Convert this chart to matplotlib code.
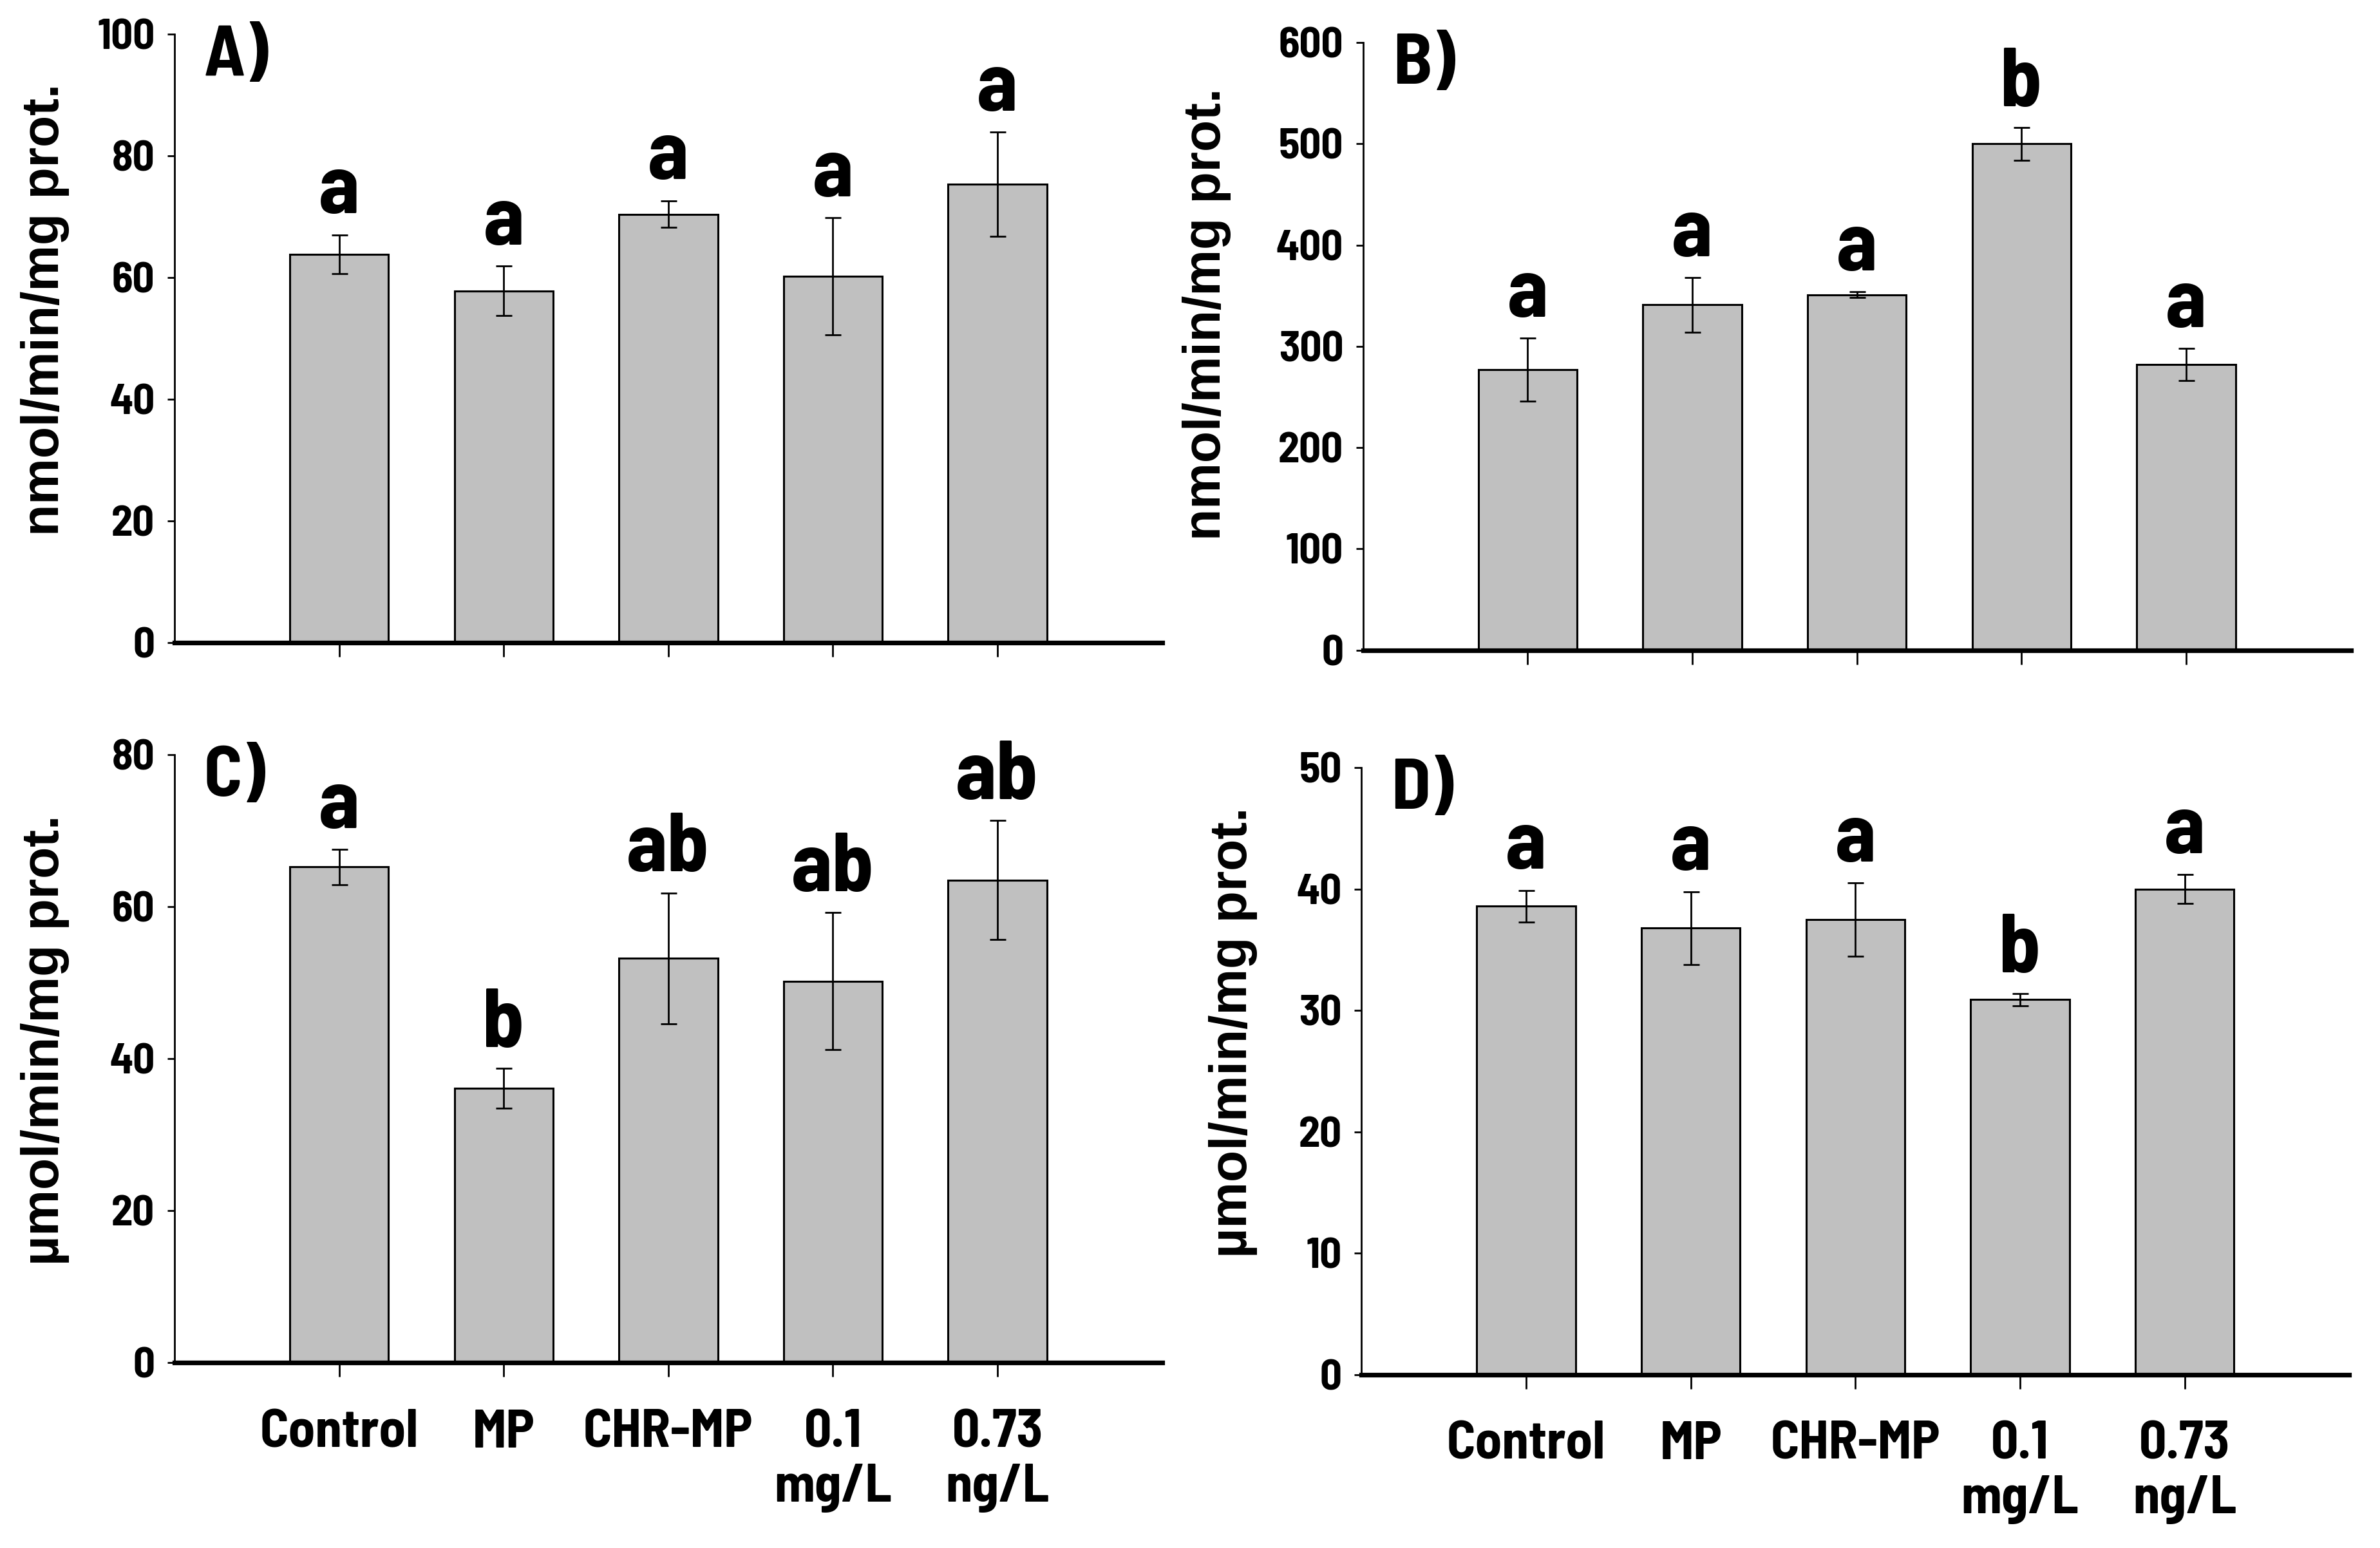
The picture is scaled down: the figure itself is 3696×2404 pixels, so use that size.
# enzyme activity bar charts, four panels A-D
import numpy as np
import matplotlib
matplotlib.use("Agg")
import matplotlib.pyplot as plt

# data
groups = ["Control", "MP", "CHR-MP", "0.1\nmg/L", "0.73\nng/L"]

a_mean = [63.8, 57.8, 70.4, 60.2, 75.3]
a_err = [3.2, 4.1, 2.2, 9.6, 8.6]
a_let = ["a", "a", "a", "a", "a"]

b_mean = [277, 341, 351, 500, 282]
b_err = [31, 27, 3, 16, 16]
b_let = ["a", "a", "a", "b", "a"]

c_mean = [65.2, 36.1, 53.2, 50.2, 63.5]
c_err = [2.3, 2.6, 8.6, 9.0, 7.8]
c_let = ["a", "b", "ab", "ab", "ab"]

d_mean = [38.6, 36.8, 37.5, 30.9, 40.0]
d_err = [1.3, 3.0, 3.0, 0.5, 1.2]
d_let = ["a", "a", "a", "b", "a"]

# condensed bold font for numbers and letters, Arial-like for the y labels
narrow = ["Barlow Semi Condensed", "DejaVu Sans"]
arial = ["Liberation Sans", "DejaVu Sans"]

fig = plt.figure(figsize=(18.48, 12.02), dpi=200)

# axes boxes in figure fractions [left, bottom, width, height]
boxes = [[0.0733, 0.585, 0.415, 0.393],
         [0.5727, 0.580, 0.415, 0.3925],
         [0.0733, 0.1196, 0.415, 0.393],
         [0.5721, 0.112, 0.415, 0.392]]

panels = [("A)", a_mean, a_err, a_let, 100, 20, "nmol/min/mg prot.", False),
          ("B)", b_mean, b_err, b_let, 600, 100, "nmol/min/mg prot.", False),
          ("C)", c_mean, c_err, c_let, 80, 20, "µmol/min/mg prot.", True),
          ("D)", d_mean, d_err, d_let, 50, 10, "µmol/min/mg prot.", True)]

ylab_pos = [(0.019, 0.80), (0.507, 0.797), (0.019, 0.328), (0.518, 0.333)]

xpos = np.arange(len(groups))

for k in range(4):
    name, mean, err, lets, ymax, ystep, ylab, show_x = panels[k]
    ax = fig.add_axes(boxes[k])

    ax.bar(xpos, mean, width=0.6, color="#c0c0c0", edgecolor="black",
           linewidth=1.1, zorder=2)
    ax.errorbar(xpos, mean, yerr=err, fmt="none", ecolor="black",
                elinewidth=1.0, capsize=4.5, capthick=1.0, zorder=3)

    # significance letters above the error bars
    for i in range(len(mean)):
        ax.annotate(lets[i], (xpos[i], mean[i] + err[i]), xytext=(0, 12),
                    textcoords="offset points", ha="center", va="baseline",
                    fontsize=47, fontweight="bold", family=narrow)

    ax.set_xlim(-1, 5)
    ax.set_ylim(0, ymax)
    ax.set_yticks(np.arange(0, ymax + 1, ystep))
    ax.set_xticks(xpos)
    if show_x:
        ax.set_xticklabels(groups, fontsize=30, fontweight="bold",
                           family=narrow, linespacing=1.15)
    else:
        ax.set_xticklabels([])

    for lab in ax.get_yticklabels():
        lab.set_fontsize(24)
        lab.set_fontweight("bold")
        lab.set_family(narrow)

    ax.spines["top"].set_visible(False)
    ax.spines["right"].set_visible(False)
    ax.spines["left"].set_linewidth(1.0)
    ax.spines["bottom"].set_linewidth(2.6)
    ax.spines["bottom"].set_zorder(4)
    ax.tick_params(axis="y", direction="out", length=4, width=1.0, pad=7)
    ax.tick_params(axis="x", direction="out", length=8, width=1.0, pad=18)

    ax.text(0.03, 1.015, name, transform=ax.transAxes, ha="left", va="top",
            fontsize=40, fontweight="bold", family=narrow)

    fig.text(ylab_pos[k][0], ylab_pos[k][1], ylab, rotation=90, ha="center",
             va="center", fontsize=29, fontweight="bold", family=arial)

fig.savefig("out.png", dpi=200)
